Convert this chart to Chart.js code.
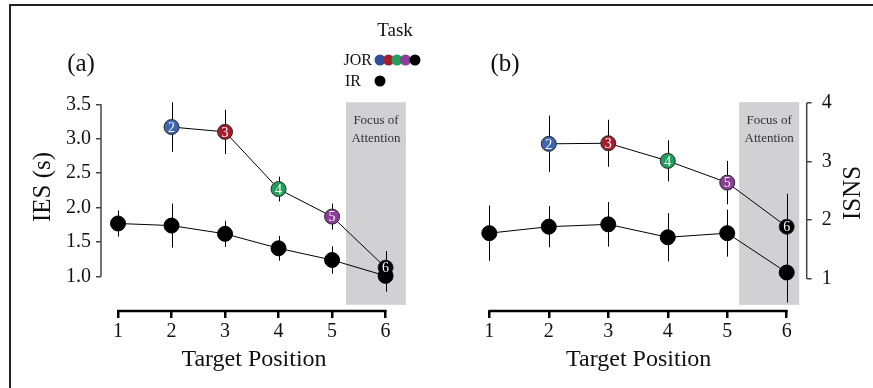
<!DOCTYPE html>
<html>
<head>
<meta charset="utf-8">
<script src="https://cdn.jsdelivr.net/npm/chart.js@4"></script>
<style>
  body { margin: 0; background: #fff; }
  #wrap { position: relative; width: 873px; height: 388px; }
  canvas { position: absolute; left: 0; top: 0; }
</style>
</head>
<body>
<div id="wrap">
  <canvas id="iesChart" width="873" height="388"></canvas>
  <canvas id="isnsChart" width="873" height="388"></canvas>
</div>
<script>
const positions = [1, 2, 3, 4, 5, 6];
const positionTicks = [1, 2, 3, 4, 5, 6];

// (a) IES in seconds
const iesJor = [null, 3.17, 3.10, 2.27, 1.87, 1.13];
const iesJorErr = [null, 0.36, 0.32, 0.18, 0.19, 0.24];
const iesIr = [1.77, 1.74, 1.62, 1.41, 1.24, 1.01];
const iesIrErr = [0.19, 0.32, 0.19, 0.18, 0.20, 0.23];
const iesTicks = [1.0, 1.5, 2.0, 2.5, 3.0, 3.5];

// (b) ISNS
const isnsJor = [null, 3.30, 3.31, 3.01, 2.64, 1.89];
const isnsJorErr = [null, 0.48, 0.40, 0.35, 0.37, 0.56];
const isnsIr = [1.78, 1.89, 1.93, 1.71, 1.78, 1.11];
const isnsIrErr = [0.47, 0.35, 0.38, 0.41, 0.40, 0.51];
const isnsTicks = [1, 2, 3, 4];

const jorColors = [null, '#3f67b0', '#a51c2d', '#21a05b', '#8b3e97', '#000000'];
const legendColors = ['#2f4f9c', '#a51c2d', '#21a05b', '#8b3e97', '#000000'];

const serif = '"Liberation Serif", "DejaVu Serif", serif';
Chart.defaults.font.family = serif;
Chart.defaults.color = '#111';

function toPoints(values) {
    return positions.map((x, i) => ({ x: x, y: values[i] })).filter(p => p.y !== null);
}
function toErrors(values, errs) {
    return positions.map((x, i) => ({ x: x, y: values[i], e: errs[i] })).filter(p => p.y !== null);
}

const panelPlugin = {
    id: 'panel',
    beforeDatasetsDraw(chart, args, opts) {
        const { ctx, scales: { x, y } } = chart;
        // focus of attention box
        const bx1 = x.getPixelForValue(opts.box[0]);
        const bx2 = x.getPixelForValue(opts.box[1]);
        const by1 = y.getPixelForValue(opts.box[3]);
        const by2 = y.getPixelForValue(opts.box[2]);
        ctx.save();
        ctx.fillStyle = '#d1d1d3';
        ctx.fillRect(bx1, by1, bx2 - bx1, by2 - by1);
        ctx.fillStyle = '#333';
        ctx.font = '13px ' + serif;
        ctx.textAlign = 'center';
        ctx.textBaseline = 'middle';
        ctx.fillText('Focus of', (bx1 + bx2) / 2, by1 + 18);
        ctx.fillText('Attention', (bx1 + bx2) / 2, by1 + 36);
        // error bars
        ctx.strokeStyle = '#000';
        ctx.lineWidth = 1;
        chart.data.datasets.forEach(ds => {
            ds.errors.forEach(p => {
                const px = Math.round(x.getPixelForValue(p.x)) + 0.5;
                ctx.beginPath();
                ctx.moveTo(px, y.getPixelForValue(p.y + p.e));
                ctx.lineTo(px, y.getPixelForValue(p.y - p.e));
                ctx.stroke();
            });
        });
        ctx.restore();
    },
    afterDatasetsDraw(chart) {
        const ctx = chart.ctx;
        ctx.save();
        ctx.fillStyle = '#fff';
        ctx.font = '14px ' + serif;
        ctx.textAlign = 'center';
        ctx.textBaseline = 'middle';
        chart.data.datasets.forEach((ds, di) => {
            if (!ds.numbered) return;
            chart.getDatasetMeta(di).data.forEach((pt, i) => {
                ctx.fillText(String(ds.data[i].x), pt.x, pt.y + 1);
            });
        });
        ctx.restore();
    },
    afterDraw(chart, args, opts) {
        const { ctx, chartArea, scales: { x, y } } = chart;
        ctx.save();
        // range frame axes
        ctx.strokeStyle = '#000';
        ctx.lineWidth = 2.5;
        ctx.beginPath();
        ctx.moveTo(x.getPixelForValue(positionTicks[0]) - 1, chartArea.bottom);
        ctx.lineTo(x.getPixelForValue(positionTicks[positionTicks.length - 1]) + 1, chartArea.bottom);
        ctx.stroke();
        const ax = opts.right ? chartArea.right : chartArea.left;
        ctx.strokeStyle = '#444';
        ctx.lineWidth = 1.5;
        ctx.beginPath();
        ctx.moveTo(ax, y.getPixelForValue(opts.yTicks[0]));
        ctx.lineTo(ax, y.getPixelForValue(opts.yTicks[opts.yTicks.length - 1]));
        ctx.stroke();
        // y title, reads bottom to top
        ctx.fillStyle = '#111';
        ctx.font = '25px ' + serif;
        ctx.textAlign = 'center';
        ctx.textBaseline = 'middle';
        ctx.translate(opts.titleX, opts.titleY);
        ctx.rotate(-Math.PI / 2);
        ctx.fillText(opts.title, 0, 0);
        ctx.setTransform(1, 0, 0, 1, 0, 0);
        // panel letter
        ctx.font = '25px ' + serif;
        ctx.fillText(opts.letter, opts.letterX, 64);
        ctx.restore();
    }
};

const legendPlugin = {
    id: 'taskLegend',
    afterDraw(chart) {
        const ctx = chart.ctx;
        ctx.save();
        // outer frame
        ctx.strokeStyle = '#222';
        ctx.lineWidth = 2;
        ctx.beginPath();
        ctx.moveTo(10, 388);
        ctx.lineTo(10, 5);
        ctx.lineTo(873, 5);
        ctx.stroke();
        ctx.fillStyle = '#111';
        ctx.textBaseline = 'middle';
        ctx.textAlign = 'center';
        ctx.font = '19px ' + serif;
        ctx.fillText('Task', 395, 31);
        ctx.textAlign = 'right';
        ctx.font = '16px ' + serif;
        ctx.fillText('JOR', 372, 61);
        ctx.fillText('IR', 361, 82);
        const dx = [380, 388.5, 397, 405.5, 415];
        dx.forEach((cx, i) => {
            ctx.fillStyle = legendColors[i];
            ctx.beginPath();
            ctx.arc(cx, 60, 5.5, 0, Math.PI * 2);
            ctx.fill();
        });
        ctx.fillStyle = '#000';
        ctx.beginPath();
        ctx.arc(380, 81, 5.5, 0, Math.PI * 2);
        ctx.fill();
        ctx.restore();
    }
};

function makePanel(id, cfg) {
    const datasets = [
        {
            label: 'IR',
            data: toPoints(cfg.ir),
            errors: toErrors(cfg.ir, cfg.irErr),
            borderColor: '#000',
            borderWidth: 1,
            pointRadius: 7.5,
            pointBackgroundColor: '#000',
            pointBorderColor: '#000',
            pointBorderWidth: 1
        },
        {
            label: 'JOR',
            data: toPoints(cfg.jor),
            errors: toErrors(cfg.jor, cfg.jorErr),
            numbered: true,
            borderColor: '#000',
            borderWidth: 1,
            pointRadius: 7.5,
            pointBackgroundColor: jorColors.filter(c => c !== null),
            pointBorderColor: '#2a2a2a',
            pointBorderWidth: 1
        }
    ];
    return new Chart(document.getElementById(id), {
        type: 'line',
        data: { datasets: datasets },
        plugins: cfg.plugins,
        options: {
            responsive: false,
            animation: false,
            events: [],
            layout: { padding: cfg.padding },
            plugins: {
                legend: { display: false },
                tooltip: { enabled: false },
                panel: cfg.panel
            },
            scales: {
                x: {
                    type: 'linear',
                    min: cfg.xMin,
                    max: cfg.xMax,
                    afterBuildTicks: s => { s.ticks = positionTicks.map(v => ({ value: v })); },
                    afterFit: s => { s.height = 77; },
                    border: { display: false },
                    grid: { drawOnChartArea: false, tickLength: 7, lineWidth: 2.5, color: '#000' },
                    ticks: { font: { size: 20 }, padding: 2, color: '#111' },
                    title: {
                        display: true,
                        text: 'Target Position',
                        font: { size: 24 },
                        padding: { top: 0, bottom: 14 },
                        color: '#111'
                    }
                },
                y: {
                    type: 'linear',
                    position: cfg.right ? 'right' : 'left',
                    min: cfg.yMin,
                    max: cfg.yMax,
                    afterBuildTicks: s => { s.ticks = cfg.yTicks.map(v => ({ value: v })); },
                    afterFit: s => { s.width = cfg.yWidth; },
                    border: { display: false },
                    grid: { drawOnChartArea: false, tickLength: 5, lineWidth: 1.5, color: '#444' },
                    ticks: {
                        font: { size: 20 },
                        padding: cfg.right ? 10 : 5,
                        color: '#111',
                        callback: v => cfg.fmt(v)
                    }
                }
            }
        }
    });
}

makePanel('iesChart', {
    jor: iesJor, jorErr: iesJorErr, ir: iesIr, irErr: iesIrErr,
    yTicks: iesTicks, yMin: 0.5, yMax: 3.5, xMin: 0.682, xMax: 6.4,
    yWidth: 101, right: false,
    padding: { left: 0, top: 104.3, right: 466, bottom: 0 },
    fmt: v => v.toFixed(1),
    plugins: [panelPlugin, legendPlugin],
    panel: {
        box: [5.26, 6.38, 0.59, 3.53],
        yTicks: iesTicks, right: false,
        title: 'IES (s)', titleX: 43, titleY: 187,
        letter: '(a)', letterX: 81
    }
});

makePanel('isnsChart', {
    jor: isnsJor, jorErr: isnsJorErr, ir: isnsIr, irErr: isnsIrErr,
    yTicks: isnsTicks, yMin: 0.4555, yMax: 4, xMin: 0.687, xMax: 6.336,
    yWidth: 66.3, right: true,
    padding: { left: 470.7, top: 102.7, right: 0, bottom: 0 },
    fmt: v => String(v),
    plugins: [panelPlugin],
    panel: {
        box: [5.2, 6.21, 0.56, 4.01],
        yTicks: isnsTicks, right: true,
        title: 'ISNS', titleX: 853, titleY: 193,
        letter: '(b)', letterX: 505
    }
});
</script>
</body>
</html>
